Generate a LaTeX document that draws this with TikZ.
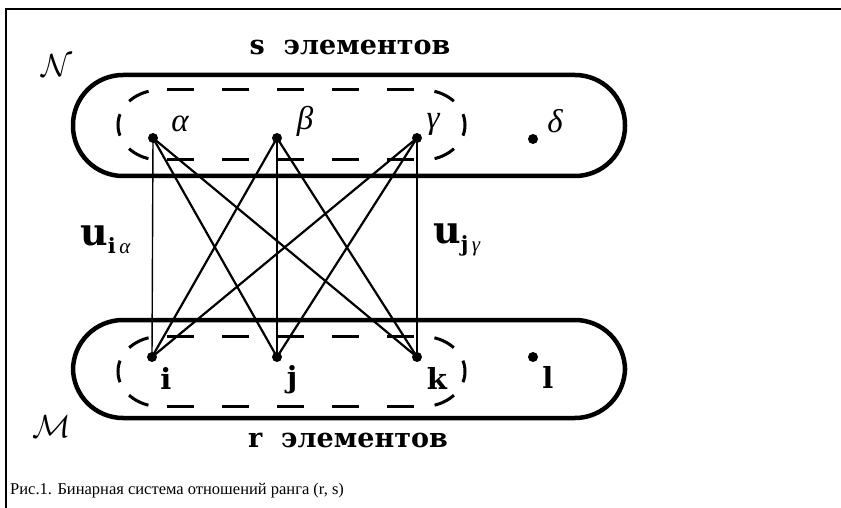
\RequirePackage{fix-cm}
\documentclass[tikz,border=0pt]{standalone}
\usepackage{fontspec}
\setmainfont{Liberation Serif}
\newfontfamily\heavy{DejaVu Serif}
\usetikzlibrary{positioning}
\tikzset{dot/.style = {fill, circle, inner sep = 0, minimum size = 10pt}}
\tikzset{set/.style = {line width = 4.5pt, rounded corners = 50pt}}
\tikzset{dashline/.style = {line width = 3pt, dash pattern = on 27pt off 28pt,
                            dash phase = 48pt}}
\tikzset{dasharc/.style = {line width = 3pt, dash pattern = on 22pt off 16pt,
                           dash phase = 26.5pt}}
\tikzset{vert/.style = {line width = 1.4pt}}
\tikzset{cross/.style = {line width = 2.2pt}}
\tikzset{lbl/.style = {inner sep = 0, font = \fontsize{33}{33}\selectfont\itshape}}
\tikzset{elt/.style = {inner sep = 0, font = \fontsize{29}{29}\selectfont\heavy\bfseries}}
\tikzset{ttl/.style = {inner sep = 0, font = \fontsize{27}{27}\selectfont\heavy\bfseries}}

\begin{document}
\begin{tikzpicture}[x=1pt, y=-1pt]
          \useasboundingbox (0,0) rectangle (841,508);
          % frame
          \draw[line width=2.5pt] (6,508) -- (6,9) -- (841,9);
          % the two sets
          \draw[set] (73,75) rectangle (625,176);
          \draw[set] (73,320) rectangle (625,418);
          % the two dashed subsets
          \foreach \cy in {125, 371.5} {
            \draw[dashline] (160,\cy-35) -- (423,\cy-35);
            \draw[dashline] (160,\cy+35) -- (423,\cy+35);
            \draw[dasharc] (160,\cy-35)
              arc[start angle=90, end angle=270, x radius=42pt, y radius=35pt];
            \draw[dasharc] (423,\cy-35)
              arc[start angle=90, end angle=-90, x radius=42pt, y radius=35pt];
          }
          % elements of N
          \node[dot] (a) at (153,138) {};
          \node[dot] (b) at (277,138) {};
          \node[dot] (g) at (417,138) {};
          \node[dot] (d) at (533,139) {};
          % elements of M
          \node[dot] (i) at (152,357) {};
          \node[dot] (j) at (277,357) {};
          \node[dot] (k) at (417,357) {};
          \node[dot] (l) at (533,357) {};
          \node[lbl] (la) at (180,124) {α};
          \node[lbl] (lb) at (305,121) {β};
          \node[lbl] (lg) at (433,124) {γ};
          \node[lbl] (ld) at (555,121) {δ};
          \node[elt] (li) at (166,378) {i};
          \node[elt] (lj) at (292,380) {j};
          \node[elt] (lk) at (437,378) {k};
          \node[elt] (ll) at (548,377) {l};
          % relations
          \foreach \s/\t in {a/i, b/j, g/k}
            \draw[vert] (\s.center) -- (\t.center);
          \foreach \s/\t in {a/j, a/k, b/i, b/k, g/i, g/j}
            \draw[cross] (\s.center) -- (\t.center);
          \node[inner sep=0, anchor=west] (uia) at (80,240)
            {\fontsize{38}{38}\selectfont\heavy\bfseries u\raisebox{-8pt}{\fontsize{21}{21}\selectfont i\,{\rmfamily\mdseries\itshape α}}};
          \node[inner sep=0, anchor=west] (ujg) at (433,240)
            {\fontsize{38}{38}\selectfont\heavy\bfseries u\raisebox{-8pt}{\fontsize{21}{21}\selectfont j\,{\rmfamily\mdseries\itshape γ}}};
          % names of the sets
          \node[inner sep=0, font=\fontsize{32}{32}\selectfont] (nN) at (57,66) {$\mathcal{N}$};
          \node[inner sep=0, font=\fontsize{32}{32}\selectfont] (nM) at (52,427) {$\mathcal{M}$};
          \node[ttl] (ts) at (350,47) {s\ \ элементов};
          \node[ttl] (tr) at (348,440) {r\ \ элементов};
          \node[inner sep=0, anchor=west, font=\fontsize{16.5}{16.5}\selectfont] (cap) at (10,491)
            {Рис.1. Бинарная система отношений ранга (r, s)};
        \end{tikzpicture}
\end{document}
